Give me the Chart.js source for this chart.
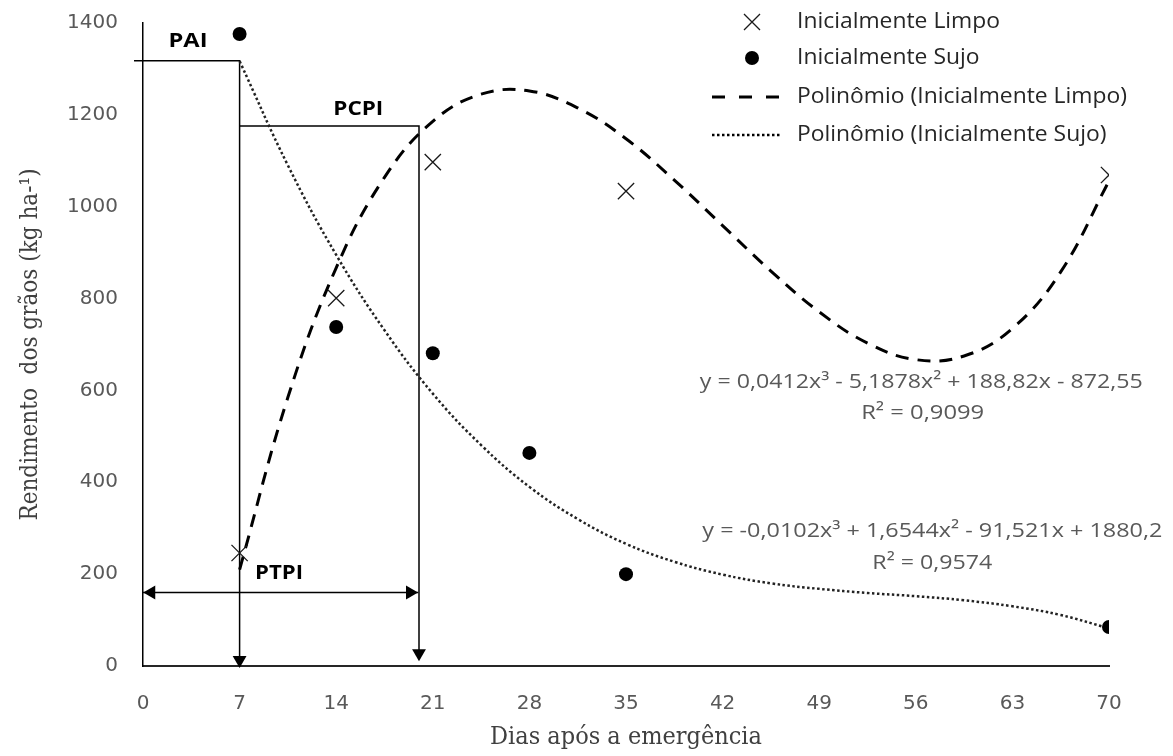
<!DOCTYPE html>
<html>
<head>
<meta charset="utf-8">
<script src="https://cdn.jsdelivr.net/npm/chart.js@4.4.0/dist/chart.umd.min.js"></script>
<style>
  html, body { margin: 0; padding: 0; background: #fff; }
</style>
</head>
<body>
<canvas id="chart" width="1173" height="756"></canvas>
<script>
const dayTicks = [0, 7, 14, 21, 28, 35, 42, 49, 56, 63, 70];
const yieldTicks = [0, 200, 400, 600, 800, 1000, 1200, 1400];

// observed yields
const limpoDays = [7, 14, 21, 35, 70];
const limpoYield = [246, 801, 1097, 1034, 1069];
const sujoDays = [7, 14, 21, 28, 35, 70];
const sujoYield = [1376, 738, 681, 464, 200, 85];

// trend lines
const trendDays = [7, 10.5, 14, 17.5, 21, 24.5, 28, 31.5, 35, 38.5, 42, 45.5, 49, 52.5, 56, 59.5, 63, 66.5, 70];
const trendLimpo = [210, 585, 867, 1064, 1186, 1245, 1252, 1215, 1148, 1058, 959, 860, 771, 703, 667, 675, 735, 858, 1056];
const trendSujo = [1317, 1090, 895, 731, 593, 481, 390, 320, 266, 227, 199, 180, 168, 159, 152, 143, 130, 111, 82];

// PAI / PCPI / PTPI guide lines
const paiX = [-0.65, 7, 7];
const paiY = [1318, 1318, 13];
const pcpiX = [7, 20, 20];
const pcpiY = [1176, 1176, 28];
const ptpiX = [0, 0.6, 19.35, 19.95];
const ptpiY = [160, 160, 160, 160];

const pts = (xs, ys) => xs.map((x, i) => ({ x, y: ys[i] }));

const guide = (xs, ys, radius, rotation) => ({
    label: '',
    data: pts(xs, ys),
    showLine: true,
    borderColor: '#000',
    borderWidth: 1.5,
    backgroundColor: '#000',
    pointStyle: 'triangle',
    pointRadius: radius,
    pointRotation: rotation,
    pointBorderWidth: 0,
    pointBackgroundColor: '#000',
    clip: false,
    tension: 0
});

// draw text centred at (cx, cy), squeezed to a given width
const fitText = (ctx, text, cx, cy, width, align) => {
    const m = ctx.measureText(text).width;
    ctx.save();
    ctx.translate(cx, cy);
    ctx.scale(width / m, 1);
    ctx.textAlign = align || 'center';
    ctx.textBaseline = 'middle';
    ctx.fillText(text, 0, 0);
    ctx.restore();
};

const extras = {
    id: 'extras',
    afterDraw(chart) {
        const { ctx, scales: { x, y } } = chart;
        const px = v => x.getPixelForValue(v);
        const py = v => y.getPixelForValue(v);
        ctx.save();

        // guide labels
        ctx.fillStyle = '#000';
        ctx.font = 'bold 20px "Open Sans"';
        fitText(ctx, 'PAI', px(3.26), py(1361), 39);
        fitText(ctx, 'PCPI', px(15.6), py(1213), 50);
        fitText(ctx, 'PTPI', px(9.86), py(202), 48);

        // equations
        ctx.fillStyle = '#595959';
        ctx.font = '20px "Open Sans"';
        fitText(ctx, 'y = 0,0412x³ - 5,1878x² + 188,82x - 872,55', px(56.4), py(618), 443);
        fitText(ctx, 'R² = 0,9099', px(56.5), py(551), 123);
        fitText(ctx, 'y = -0,0102x³ + 1,6544x² - 91,521x + 1880,2', px(57.2), py(294), 460);
        fitText(ctx, 'R² = 0,9574', px(57.2), py(224), 120);

        // legend
        const ds = chart.data.datasets;
        const rows = [22, 58, 97, 135];
        const sx = 752, tx = 797;
        ctx.strokeStyle = '#1a1a1a';
        ctx.lineWidth = 1.3;
        ctx.beginPath();
        ctx.moveTo(sx - 8, rows[0] - 8); ctx.lineTo(sx + 8, rows[0] + 8);
        ctx.moveTo(sx + 8, rows[0] - 8); ctx.lineTo(sx - 8, rows[0] + 8);
        ctx.stroke();
        ctx.fillStyle = '#000';
        ctx.beginPath();
        ctx.arc(sx, rows[1], 7, 0, Math.PI * 2);
        ctx.fill();
        ctx.strokeStyle = '#000';
        ctx.lineWidth = 3;
        ctx.setLineDash([13, 14]);
        ctx.beginPath(); ctx.moveTo(712, rows[2]); ctx.lineTo(781, rows[2]); ctx.stroke();
        ctx.lineWidth = 2.5;
        ctx.setLineDash([2.5, 2.5]);
        ctx.beginPath(); ctx.moveTo(712, rows[3]); ctx.lineTo(781, rows[3]); ctx.stroke();
        ctx.setLineDash([]);

        ctx.fillStyle = '#262626';
        ctx.font = '21px "Open Sans"';
        const scale = 330 / ctx.measureText(ds[2].label).width;
        ds.slice(0, 4).forEach((d, i) => {
            const w = ctx.measureText(d.label).width * scale;
            fitText(ctx, d.label, tx, rows[i], w, 'left');
        });
        ctx.restore();
    }
};

new Chart(document.getElementById('chart'), {
    type: 'scatter',
    data: {
        datasets: [
            {
                label: 'Inicialmente Limpo',
                data: pts(limpoDays, limpoYield),
                pointStyle: 'crossRot',
                pointRadius: 11.5,
                borderColor: '#1a1a1a',
                borderWidth: 1.3,
                backgroundColor: '#1a1a1a'
            },
            {
                label: 'Inicialmente Sujo',
                data: pts(sujoDays, sujoYield),
                pointStyle: 'circle',
                pointRadius: 7,
                borderWidth: 0,
                backgroundColor: '#000'
            },
            {
                label: 'Polinômio (Inicialmente Limpo)',
                data: pts(trendDays, trendLimpo),
                showLine: true,
                borderColor: '#000',
                borderWidth: 3,
                borderDash: [13, 9],
                pointRadius: 0,
                tension: 0.4
            },
            {
                label: 'Polinômio (Inicialmente Sujo)',
                data: pts(trendDays, trendSujo),
                showLine: true,
                borderColor: '#222',
                borderWidth: 2.5,
                borderDash: [2.5, 2.5],
                pointRadius: 0,
                tension: 0.4
            },
            guide(paiX, paiY, [0, 0, 8], [0, 0, 180]),
            guide(pcpiX, pcpiY, [0, 0, 8], [0, 0, 180]),
            guide(ptpiX, ptpiY, [0, 8, 8, 0], [0, -90, 90, 0])
        ]
    },
    options: {
        responsive: false,
        animation: false,
        layout: { autoPadding: false, padding: { left: 0, right: 64, top: 23, bottom: 0 } },
        plugins: {
            legend: { display: false },
            tooltip: { enabled: false }
        },
        scales: {
            x: {
                type: 'linear',
                min: 0,
                max: 70,
                afterBuildTicks: s => { s.ticks = dayTicks.map(v => ({ value: v })); },
                afterFit: s => { s.height = 90; },
                grid: { display: true, drawOnChartArea: false, drawTicks: false },
                border: { display: true, color: '#262626', width: 2 },
                ticks: {
                    padding: 26,
                    color: '#595959',
                    autoSkip: false,
                    maxRotation: 0,
                    callback: v => String(v),
                    font: { family: '"DejaVu Sans"', size: 20 }
                },
                title: {
                    display: true,
                    text: 'Dias após a emergência',
                    color: '#404040',
                    padding: { top: 0, bottom: 4 },
                    font: { family: '"DejaVu Serif Condensed", "DejaVu Serif", serif', size: 25 }
                }
            },
            y: {
                min: 0,
                max: 1400,
                afterBuildTicks: s => { s.ticks = yieldTicks.map(v => ({ value: v })); },
                afterFit: s => { s.width = 143; s.paddingTop = 0; s.paddingBottom = 0; },
                grid: { display: true, drawOnChartArea: false, drawTicks: false },
                border: { display: true, color: '#000', width: 1.5 },
                ticks: {
                    padding: 25,
                    color: '#595959',
                    callback: v => String(v),
                    font: { family: '"DejaVu Sans"', size: 20 }
                },
                title: {
                    display: true,
                    text: 'Rendimento  dos grãos (kg ha-¹)',
                    color: '#404040',
                    padding: { top: 16, bottom: 0 },
                    font: { family: '"DejaVu Serif Condensed", "DejaVu Serif", serif', size: 24 }
                }
            }
        }
    },
    plugins: [extras]
});
</script>
</body>
</html>
